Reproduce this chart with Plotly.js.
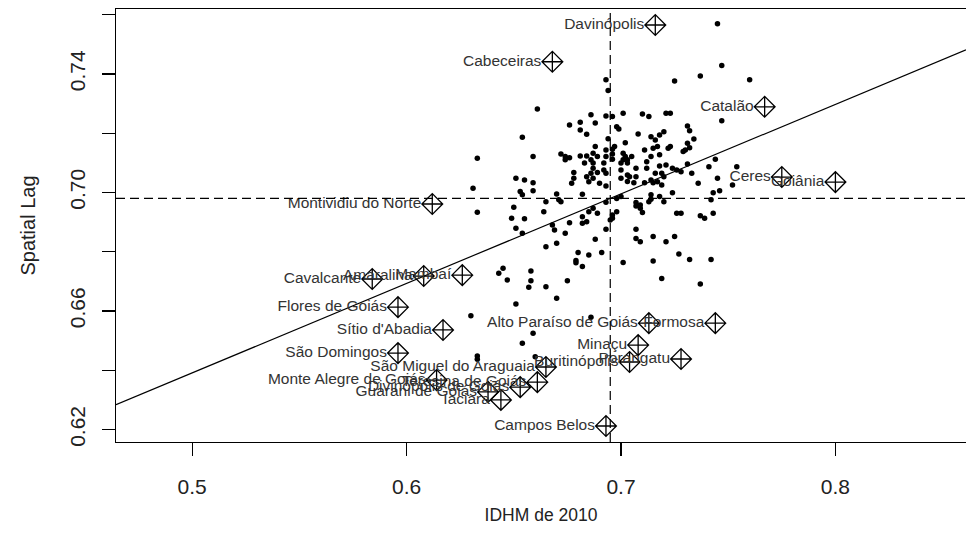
<!DOCTYPE html>
<html>
<head>
<meta charset="utf-8">
<script src="https://cdn.plot.ly/plotly-3.0.1.min.js"></script>
<style>html,body{margin:0;padding:0;background:#fff;}#chart{width:966px;height:551px;}</style>
</head>
<body>
<div id="chart"></div>
<script>
// Regular municipalities (IDHM 2010 vs spatial lag)
const idhm = [
0.745,0.747,0.737,0.760,0.725,0.693,0.694,0.661,0.747,0.710,
0.713,0.721,0.723,0.701,0.693,0.696,0.686,0.681,0.676,0.688,
0.698,0.699,0.681,0.684,0.708,0.714,0.716,0.718,0.720,0.731,
0.732,0.734,0.731,0.732,0.654,0.694,0.688,0.697,0.696,0.693,
0.702,0.717,0.715,0.723,0.730,0.729,0.633,0.659,0.672,0.674,
0.681,0.684,0.683,0.686,0.693,0.696,0.696,0.701,0.701,0.705,
0.711,0.714,0.718,0.722,0.741,0.731,0.744,0.754,0.687,0.687,
0.686,0.687,0.692,0.692,0.693,0.700,0.700,0.703,0.707,0.712,
0.712,0.718,0.721,0.719,0.724,0.726,0.728,0.733,0.678,0.678,
0.684,0.685,0.689,0.704,0.707,0.706,0.711,0.714,0.715,0.717,
0.720,0.745,0.651,0.655,0.659,0.653,0.654,0.659,0.677,0.690,
0.693,0.631,0.736,0.670,0.671,0.672,0.665,0.682,0.693,0.698,
0.700,0.707,0.709,0.714,0.713,0.714,0.718,0.720,0.724,0.742,
0.743,0.746,0.633,0.650,0.649,0.655,0.664,0.685,0.687,0.689,
0.696,0.698,0.696,0.707,0.709,0.710,0.726,0.728,0.737,0.739,
0.743,0.651,0.654,0.668,0.669,0.676,0.674,0.682,0.684,0.693,
0.707,0.707,0.709,0.715,0.721,0.725,0.688,0.665,0.670,0.680,
0.685,0.691,0.679,0.679,0.682,0.701,0.715,0.719,0.737,0.727,
0.732,0.742,0.645,0.643,0.647,0.658,0.658,0.657,0.665,0.675,
0.670,0.651,0.630,0.686,0.659,0.654,0.633,0.633,0.660,0.752,
0.719,0.716,0.702,0.703,0.674,0.676,0.687,0.689,0.703,0.700,
0.703,0.682,0.695
];
const spatialLag = [
0.7569,0.7428,0.7393,0.7380,0.7376,0.7380,0.7344,0.7282,0.7242,0.7265,
0.7256,0.7267,0.7267,0.7267,0.7258,0.7256,0.7262,0.7237,0.7228,0.7234,
0.7222,0.7214,0.7211,0.7196,0.7197,0.7188,0.7177,0.7194,0.7205,0.7224,
0.7208,0.7180,0.7166,0.7151,0.7186,0.7181,0.7155,0.7155,0.7146,0.7143,
0.7168,0.7155,0.7149,0.7155,0.7143,0.7138,0.7115,0.7121,0.7130,0.7110,
0.7123,0.7123,0.7099,0.7110,0.7121,0.7130,0.7112,0.7132,0.7110,0.7121,
0.7143,0.7121,0.7127,0.7149,0.7087,0.7096,0.7112,0.7087,0.7099,0.7082,
0.7065,0.7048,0.7099,0.7076,0.7065,0.7099,0.7076,0.7059,0.7082,0.7104,
0.7082,0.7089,0.7093,0.7065,0.7082,0.7076,0.7070,0.7065,0.7067,0.7048,
0.7053,0.7036,0.7067,0.7053,0.7053,0.7033,0.7033,0.7042,0.7033,0.7036,
0.7053,0.7048,0.7048,0.7042,0.7033,0.7003,0.6992,0.7006,0.7031,0.7031,
0.7022,0.7014,0.7031,0.6995,0.6975,0.6969,0.6969,0.6994,0.6967,0.6980,
0.6986,0.6966,0.6958,0.6977,0.6969,0.6992,0.6986,0.6969,0.6999,0.6975,
0.6999,0.7006,0.6933,0.6950,0.6913,0.6911,0.6935,0.6935,0.6947,0.6930,
0.6924,0.6935,0.6913,0.6954,0.6947,0.6932,0.6930,0.6930,0.6921,0.6913,
0.6930,0.6879,0.6862,0.6890,0.6873,0.6898,0.6862,0.6896,0.6901,0.6876,
0.6876,0.6845,0.6834,0.6851,0.6834,0.6851,0.6842,0.6817,0.6829,0.6797,
0.6789,0.6797,0.6770,0.6763,0.6750,0.6764,0.6769,0.6710,0.6691,0.6792,
0.6774,0.6774,0.6744,0.6727,0.6705,0.6735,0.6702,0.6680,0.6682,0.6702,
0.6643,0.6624,0.6584,0.6579,0.6525,0.6491,0.6448,0.6437,0.6446,0.7025,
0.7025,0.7065,0.7121,0.7110,0.7121,0.7117,0.7132,0.7121,0.7099,0.7048,
0.7037,0.6918,0.6907
];

// Influential municipalities (labelled)
const inflNames = ["Davinópolis","Cabeceiras","Catalão","Ceres","Goiânia","Montividiu do Norte",
 "Cavalcante","Amaralina","Mambaí","Flores de Goiás","Sítio d'Abadia","São Domingos",
 "São Miguel do Araguaia","Monte Alegre de Goiás","Teresina de Goiás","Divinópolis de Goiás",
 "Guarani de Goiás","Iaciara","Campos Belos","Alto Paraíso de Goiás","Formosa","Minaçu",
 "Buritinópolis","Porangatu"];
const inflIdhm = [0.716,0.668,0.767,0.775,0.800,0.612,
 0.584,0.608,0.626,0.596,0.617,0.596,
 0.665,0.614,0.661,0.653,
 0.638,0.644,0.693,0.713,0.744,0.708,
 0.704,0.728];
const inflLag = [0.7565,0.7441,0.7289,0.7052,0.7035,0.6961,
 0.6708,0.6718,0.6721,0.6613,0.6536,0.6458,
 0.6411,0.6367,0.6360,0.6343,
 0.6327,0.6300,0.6212,0.6559,0.6559,0.6485,
 0.6428,0.6438];

// Means and regression slope of the Moran scatterplot
const meanIdhm = 0.695;
const meanLag = 0.698;
const moranSlope = 0.302;

const xRange = [0.4645, 0.8609];
const yRange = [0.6158, 0.7619];
const xTicks = [0.5, 0.6, 0.7, 0.8];
const xTickText = ["0.5", "0.6", "0.7", "0.8"];
const yTicks = [0.62, 0.64, 0.66, 0.68, 0.70, 0.72, 0.74, 0.76];
const yTickText = ["0.62", "", "0.66", "", "0.70", "", "0.74", ""];

const fitX = xRange.slice();
const fitY = fitX.map(v => meanLag + moranSlope * (v - meanIdhm));

const regular = 'Liberation Sans, Arial, sans-serif';

const data = [
  {x: fitX, y: fitY, mode: 'lines', line: {color: '#000', width: 1.2}, hoverinfo: 'skip'},
  {x: idhm, y: spatialLag, mode: 'markers', marker: {color: '#000', size: 5.5}},
  {x: inflIdhm, y: inflLag, mode: 'markers+text', text: inflNames, textposition: 'middle left',
   textfont: {family: regular, size: 15.5, color: '#333'},
   marker: {symbol: 'diamond-cross-open', size: 16, color: '#000', line: {width: 1.3, color: '#000'}}}
];

const layout = {
  width: 966, height: 551,
  margin: {l: 116, r: 0, t: 9, b: 109},
  paper_bgcolor: '#fff', plot_bgcolor: '#fff',
  showlegend: false,
  xaxis: {range: xRange, tickvals: xTicks, ticktext: xTickText, ticks: 'outside', ticklen: 13,
    tickwidth: 1.2, tickcolor: '#000', showline: true, linecolor: '#000', linewidth: 1.3, mirror: true,
    showgrid: false, zeroline: false, tickfont: {family: regular, size: 21, color: '#222'}, ticklabelstandoff: 12,
    title: {text: 'IDHM de 2010', font: {family: regular, size: 17.5, color: '#222'}, standoff: 12}},
  yaxis: {range: yRange, tickvals: yTicks, ticktext: yTickText, ticks: 'outside', ticklen: 13,
    tickwidth: 1.2, tickcolor: '#000', showline: true, linecolor: '#000', linewidth: 1.3, mirror: false,
    showgrid: false, zeroline: false, tickfont: {family: regular, size: 21, color: '#222'}, tickangle: -90, ticklabelstandoff: 8,
    title: {text: 'Spatial Lag', font: {family: regular, size: 20, color: '#222'}, standoff: 25}},
  shapes: [
    {type: 'line', xref: 'x', yref: 'paper', x0: meanIdhm, x1: meanIdhm, y0: 0, y1: 1,
     line: {color: '#000', width: 1.2, dash: '9px,5px'}},
    {type: 'line', xref: 'paper', yref: 'y', x0: 0, x1: 1, y0: meanLag, y1: meanLag,
     line: {color: '#000', width: 1.2, dash: '9px,5px'}}
  ]
};

Plotly.newPlot('chart', data, layout, {displayModeBar: false, staticPlot: true});
</script>
</body>
</html>
